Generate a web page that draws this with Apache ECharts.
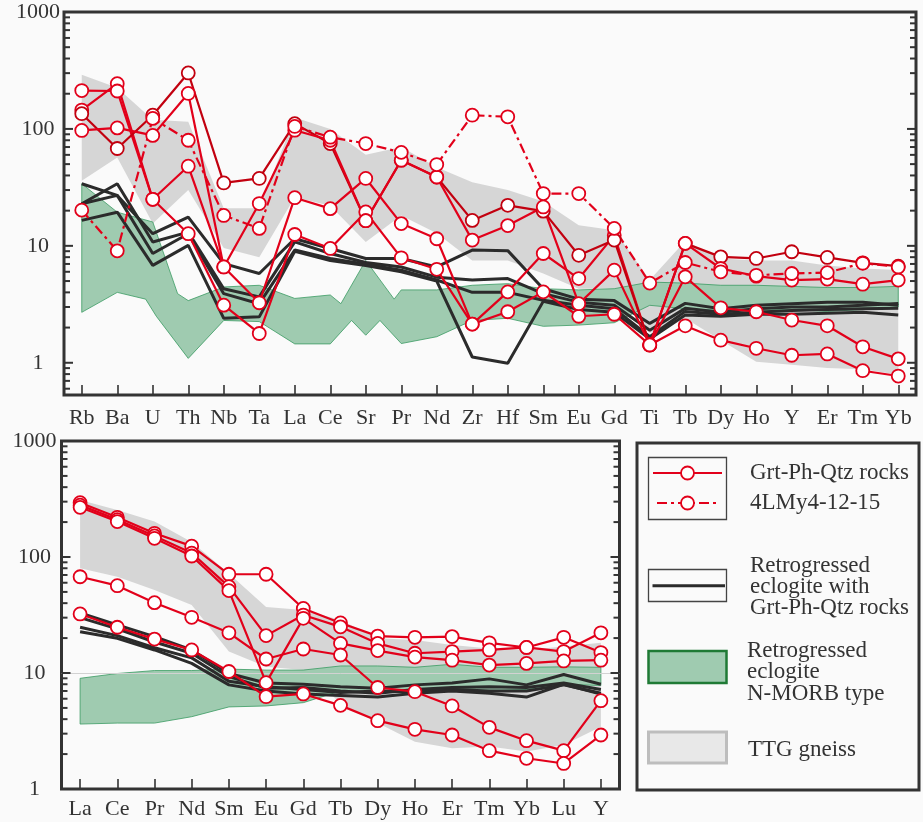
<!DOCTYPE html>
<html><head><meta charset="utf-8">
<script src="https://cdn.jsdelivr.net/npm/echarts@6/dist/echarts.min.js"></script>
<style>html,body{margin:0;padding:0;background:#fafafa;}#c{width:923px;height:822px;}</style>
</head><body><div id="c"></div>
<script>
// ---------- categories & tick labels ----------
const topCats = ['Rb','Ba','U','Th','Nb','Ta','La','Ce','Sr','Pr','Nd','Zr','Hf','Sm','Eu','Gd','Ti','Tb','Dy','Ho','Y','Er','Tm','Yb'];
const botCats = ['La','Ce','Pr','Nd','Sm','Eu','Gd','Tb','Dy','Ho','Er','Tm','Yb','Lu','Y'];
const yTickLabels = [1, 10, 100, 1000];
const minorTicksTop = [0.6,0.7,0.8,0.9,2,3,4,5,6,7,8,9,20,30,40,50,60,70,80,90,200,300,400,500,600,700,800,900];
const minorTicksBot = [2,3,4,5,6,7,8,9,20,30,40,50,60,70,80,90,200,300,400,500,600,700,800,900];

// ---------- top chart (spider) ----------
const topRed1 = [145,244,25,12.7,3.11,1.78,12.5,9.5,19.5,7.9,6.3,2.14,4.04,8.6,5.25,12.3,1.42,5.43,2.95,2.73,2.32,2.07,1.37,1.08];
const topRed2 = [213,211,25,48,6.6,3.26,25.8,20.8,37.7,15.5,11.5,2.14,2.73,4.04,2.5,2.6,1.42,2.07,1.56,1.33,1.16,1.19,0.855,0.77];
const topRed3 = [135,68,131,301,34.5,37.7,111,75,16.4,54,38.8,16.5,22.2,19.8,8.3,11.2,1.42,10.5,8.05,7.8,8.9,7.96,7.16,6.7];
const topRed4 = [97,102,88,201,6.6,23,97.5,80,16.4,54,38.8,11.2,14.9,21.5,3.2,6.2,1.42,10.5,6.4,5.5,5.1,5.2,4.7,5.1];
const topDash = [20.2,9.06,123,80,18.2,14.1,105,85,75,63,49.6,131,127,28,28,14.1,4.8,7.2,6.0,5.6,5.8,5.9,7.1,6.6];
const topBlk1 = [34,27,12.7,17.6,7.05,5.8,11.5,9.5,7.8,7.8,6.6,9.2,9.1,4.3,3.5,3.4,2.17,3.22,2.9,3.1,3.2,3.3,3.3,3.1];
const topBlk2 = [22.9,34,10.8,13.1,4.3,3.66,10.8,8.6,7.2,6.6,5.4,5.1,5.25,3.9,3.3,3.1,1.9,2.92,2.7,2.9,3.0,3.0,3.1,3.22];
const topBlk3 = [22.9,27,8.6,12.7,3.9,3.2,9.2,7.8,6.95,6.2,5.1,4.0,4.0,3.43,3.1,2.9,1.67,2.75,2.6,2.7,2.8,2.85,2.9,2.92];
const topBlk4 = [16.5,19.4,6.8,10.1,2.4,2.47,9.0,7.5,6.8,6.0,5.0,1.12,0.99,3.35,2.85,2.7,1.6,2.56,2.5,2.6,2.6,2.65,2.7,2.56];
const topTTGUpper = [290,225,120,115,21,21,125,100,60,70,47,35,30,24,15,13.6,5.1,11,7.8,7.5,7.5,6.8,6.4,6.2];
const topTTGLower = [36,57,15.5,30,9.6,8,26,22,10.8,18.2,12.8,7.5,7.5,5.8,4.3,4.3,1.8,2.4,1.56,1.02,0.96,0.9,0.88,0.79];
const topMorbUpper = [[0,34],[1,19.4],[2,16],[2.7,3.9],[3,3.4],[4,4.45],[5,4.6],[6,3.55],[7,3.8],[7.3,3.2],[8,7.5],[8.8,3.5],[9,4.2],[10,4.2],[11,4.6],[12,4.75],[13,4.3],[14,4.2],[15,4.3],[16,4.9],[17,4.8],[18,4.6],[19,4.6],[20,4.5],[21,4.4],[22,4.4],[23,4.5]];
const topMorbLower = [[0,2.7],[1,4.0],[1.8,3.5],[2.1,2.5],[3,1.09],[4,2.3],[5,2.25],[6,1.45],[7,1.45],[7.6,2.3],[8,1.72],[8.4,2.3],[9,1.46],[10,1.67],[11,2.3],[12,2.4],[13,2.05],[14,2.1],[15,2.2],[16,3.1],[17,2.9],[18,2.8],[19,2.8],[20,2.85],[21,2.75],[22,2.85],[23,3.0]];

// ---------- bottom chart (REE) ----------
const botRed1 = [294,220,160,124,71,71,36,27,20.8,20.3,20.6,18.2,16.6,20.3,15];
const botRed2 = [280,210,152,108,55.5,21,31.6,25,18,14.8,15.3,15.8,16.6,15.3,22.2];
const botRed3 = [268,202,145,102,51.3,8.26,29.6,18,15.6,13.7,12.9,11.7,12.1,12.7,12.9];
const botRed4 = [67.6,56.6,40.4,30.2,22.2,13.2,16.1,14.3,7.5,6.9,5.2,3.4,2.61,2.14,5.77];
const botRed5 = [32.3,24.8,19.6,15.8,10.3,6.25,6.6,5.26,3.88,3.27,2.92,2.14,1.84,1.66,2.92];
const botBlk1 = [33,26,20.6,15.8,9.9,8.2,8.0,7.6,7.4,7.9,8.2,8.9,7.9,9.7,8.0];
const botBlk2 = [30,24,18.5,14.8,9.3,7.4,7.5,7.0,6.7,7.2,7.5,7.6,7.5,8.2,7.2];
const botBlk3 = [24.8,21,16.5,13.5,8.5,7.6,7.2,6.8,7.0,6.9,7.2,7.0,7.0,7.9,6.7];
const botBlk4 = [22.7,19.9,15.8,12.1,7.9,7.0,6.6,6.4,6.2,6.7,7.0,6.7,6.2,8.0,6.6];
const botTTGUpper = [310,254,202,135,72,37,35,28.6,19.9,19.3,17.4,16.3,15.8,16.9,18.2];
const botTTGLower = [80,67.6,52,38.5,15.3,11.3,10.6,5.5,3.7,2.56,2.24,2.32,2.1,2.39,3.44];
const botMorbUpper = [9.0,9.9,10.5,10.5,10.8,10.6,10.6,11.5,11.5,11.2,11.9,11.2,11.2,11.3,11.2];
const botMorbLower = [3.63,3.7,3.7,4.2,5.1,5.2,5.55,7.0,6.8,7.0,7.2,7.0,7.2,8.0,7.8];

// ---------- styling ----------
const FONT = '"Liberation Serif", "Times New Roman", serif';
const TXT = '#333333';
const RED = '#e2001a', DRED = '#c2000f', BLK = '#2b2b2b';
const GRAY_FILL = '#d6d6d6', GREEN_FILL = '#9fcbb0', GREEN_EDGE = '#3a9a62';
const DASHDOT = [10,4,3,4];

const pairs = vals => vals.map((v,i)=>[i,v]);

function band(xi, yi, upper, lower, fill, stroke, lw) {
  return {type:'custom', xAxisIndex:xi, yAxisIndex:yi, silent:true, clip:true, z:1,
    data:[[0,1]], encode:{x:0,y:1},
    renderItem:(params, api)=>{
      const pts = upper.map(p=>api.coord(p)).concat(lower.slice().reverse().map(p=>api.coord(p)));
      return {type:'polygon', shape:{points:pts}, style:{fill:fill, stroke:stroke, lineWidth:lw}};
    }};
}
function blackLine(xi, yi, vals, extra) {
  return Object.assign({type:'line', xAxisIndex:xi, yAxisIndex:yi, data:pairs(vals), symbol:'none', silent:true, z:3,
    lineStyle:{color:BLK, width:3}}, extra||{});
}
function redLine(xi, yi, vals, color, dash) {
  return {type:'line', xAxisIndex:xi, yAxisIndex:yi, data:pairs(vals), symbol:'circle', symbolSize:13, silent:true, z:4,
    itemStyle:{color:'#ffffff', borderColor:color, borderWidth:1.8},
    lineStyle:{color:color, width:2.2, type: dash ? DASHDOT : 'solid'}};
}
function ticks(xi, yi, minors) {
  const data = yTickLabels.map(v=>[0,v,1]).concat(minors.map(v=>[0,v,0]));
  return {type:'custom', xAxisIndex:xi, yAxisIndex:yi, silent:true, clip:false, z:6,
    data:data, encode:{x:0,y:1},
    renderItem:(params, api)=>{
      const cs = params.coordSys;
      const y = api.coord([0, api.value(1)])[1];
      const L = api.value(2) === 1 ? 9 : 6;
      return {type:'group', children:[
        {type:'line', shape:{x1:cs.x, y1:y, x2:cs.x+L, y2:y}, style:{stroke:'#333', lineWidth:2}},
        {type:'line', shape:{x1:cs.x+cs.width, y1:y, x2:cs.x+cs.width-L, y2:y}, style:{stroke:'#333', lineWidth:2}}
      ]};
    }};
}
const yLabelFmt = v => {
  const lg = Math.log10(v);
  return (Math.abs(lg - Math.round(lg)) < 1e-6 && yTickLabels.indexOf(Math.round(v)) >= 0) ? String(Math.round(v)) : '';
};
function catAxis(gi, cats, margin) {
  return {gridIndex:gi, type:'category', data:cats, boundaryGap:true,
    axisLine:{show:false},
    axisTick:{show:true, inside:true, alignWithLabel:true, interval:0, length:10, lineStyle:{color:'#333', width:1.6}},
    axisLabel:{interval:0, margin:margin, fontFamily:FONT, fontSize:22, color:TXT},
    splitLine:{show:false}};
}
function valXAxis(gi, n) {
  return {gridIndex:gi, type:'value', min:-0.5, max:n-0.5, show:false, splitLine:{show:false}};
}
function logYAxis(gi, min, margin) {
  return {gridIndex:gi, type:'log', logBase:10, min:min, max:1000,
    axisLine:{show:false}, axisTick:{show:false}, splitLine:{show:false}, minorTick:{show:false},
    axisLabel:{formatter:yLabelFmt, align:'center', margin:margin, fontFamily:FONT, fontSize:22, color:TXT}};
}

const series = [
  band(1,0,pairs(topTTGUpper),pairs(topTTGLower),GRAY_FILL,'none',0),
  band(1,0,topMorbUpper,topMorbLower,GREEN_FILL,GREEN_EDGE,0.8),
  blackLine(1,0,topBlk1), blackLine(1,0,topBlk2), blackLine(1,0,topBlk3), blackLine(1,0,topBlk4),
  redLine(1,0,topRed1,RED), redLine(1,0,topRed2,RED), redLine(1,0,topRed3,DRED), redLine(1,0,topRed4,RED),
  redLine(1,0,topDash,RED,true),
  ticks(1,0,minorTicksTop),

  band(3,1,pairs(botTTGUpper),pairs(botTTGLower),GRAY_FILL,'none',0),
  band(3,1,pairs(botMorbUpper),pairs(botMorbLower),GREEN_FILL,GREEN_EDGE,0.8),
  blackLine(3,1,botBlk1,{markLine:{silent:true, symbol:'none', label:{show:false}, z:3,
     lineStyle:{color:'#d2d2d2', width:1, type:'solid'}, data:[{yAxis:10}]}}),
  blackLine(3,1,botBlk2), blackLine(3,1,botBlk3), blackLine(3,1,botBlk4),
  redLine(3,1,botRed1,RED), redLine(3,1,botRed2,RED), redLine(3,1,botRed3,RED),
  redLine(3,1,botRed4,RED), redLine(3,1,botRed5,RED),
  ticks(3,1,minorTicksBot)
];

// ---------- legend (graphic) ----------
const lgText = (t, x, y) => ({type:'text', z:10, style:{text:t, x:x, y:y, font:'23px ' + FONT, fill:TXT, textVerticalAlign:'middle', verticalAlign:'middle'}});
const graphic = [
  {type:'rect', z:10, shape:{x:637, y:443, width:282, height:347}, style:{fill:'none', stroke:'#333', lineWidth:3}},
  {type:'rect', z:10, shape:{x:648.5, y:457.5, width:78, height:62}, style:{fill:'none', stroke:'#444', lineWidth:1.3}},
  {type:'line', z:10, shape:{x1:653, y1:473, x2:722, y2:473}, style:{stroke:RED, lineWidth:2.2}},
  {type:'circle', z:11, shape:{cx:687.5, cy:473, r:6.5}, style:{fill:'#fff', stroke:RED, lineWidth:1.8}},
  {type:'line', z:10, shape:{x1:657, y1:503, x2:718, y2:503}, style:{stroke:RED, lineWidth:2.2, lineDash:DASHDOT}},
  {type:'circle', z:11, shape:{cx:687.5, cy:503, r:6.5}, style:{fill:'#fff', stroke:RED, lineWidth:1.8}},
  lgText('Grt-Ph-Qtz rocks', 750, 473),
  lgText('4LMy4-12-15', 750, 503),
  {type:'rect', z:10, shape:{x:648.5, y:569.5, width:78, height:32}, style:{fill:'none', stroke:'#444', lineWidth:1.3}},
  {type:'line', z:10, shape:{x1:652.5, y1:585.7, x2:725, y2:585.7}, style:{stroke:BLK, lineWidth:3}},
  lgText('Retrogressed', 750, 566),
  lgText('eclogite with', 750, 587),
  lgText('Grt-Ph-Qtz rocks', 750, 608),
  {type:'rect', z:10, shape:{x:648.5, y:651, width:78, height:32}, style:{fill:GREEN_FILL, stroke:'#1f7a35', lineWidth:2.5}},
  lgText('Retrogressed', 747, 651),
  lgText('eclogite', 747, 672),
  lgText('N-MORB type', 747, 694),
  {type:'rect', z:10, shape:{x:648.5, y:732, width:78, height:31}, style:{fill:'#e8e8e8', stroke:'#bdbdbd', lineWidth:3}},
  lgText('TTG gneiss', 748, 750)
];

const chart = echarts.init(document.getElementById('c'), null, {renderer:'canvas'});
chart.setOption({
  animation:false,
  backgroundColor:'#fafafa',
  grid:[
    {left:64, top:12, width:852, height:383, show:true, borderColor:'#333', borderWidth:3, backgroundColor:'transparent'},
    {left:61.5, top:441, width:558, height:348, show:true, borderColor:'#333', borderWidth:3, backgroundColor:'transparent'}
  ],
  xAxis:[catAxis(0, topCats, 12), valXAxis(0, topCats.length), catAxis(1, botCats, 9), valXAxis(1, botCats.length)],
  yAxis:[logYAxis(0, 0.53, 26), logYAxis(1, 1, 27)],
  series:series,
  graphic:graphic
});
</script></body></html>
